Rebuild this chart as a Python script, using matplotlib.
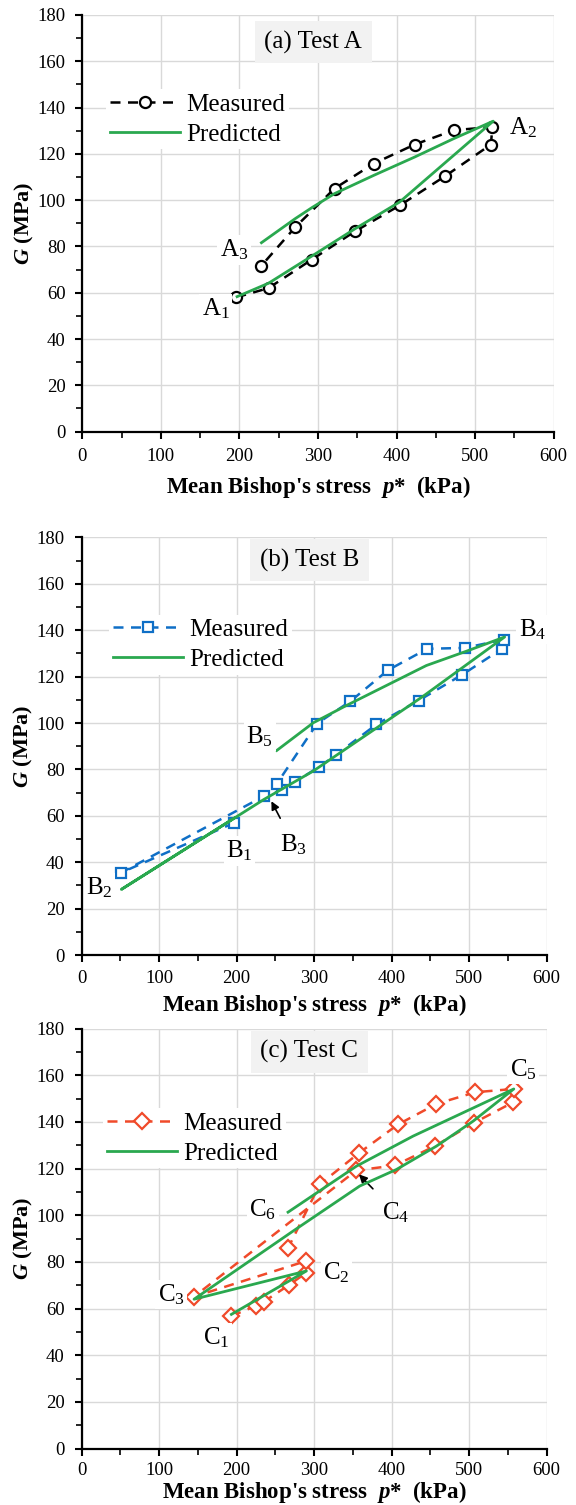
import matplotlib
matplotlib.use("Agg")
import matplotlib.pyplot as plt
from matplotlib.ticker import MultipleLocator

plt.rcParams["font.family"] = "Liberation Serif"
plt.rcParams["mathtext.fontset"] = "custom"
plt.rcParams["mathtext.rm"] = "Liberation Serif"
plt.rcParams["mathtext.it"] = "Liberation Serif:italic"
plt.rcParams["mathtext.bf"] = "Liberation Serif:bold"
plt.rcParams["mathtext.bfit"] = "Liberation Serif:italic:bold"

# ---- Test A ----
a_meas_p = [196, 237, 292, 347, 404, 462, 520, 522, 473, 423, 371, 321, 271, 228]
a_meas_g = [58, 62, 74.3, 86.5, 97.7, 110.4, 124, 131.6, 130.2, 124, 115.8, 105, 88.3, 71.7]
a_pred_p = [197, 237, 292, 347, 404, 523, 473, 423, 371, 321, 292, 271, 228]
a_pred_g = [58.3, 64.1, 75.8, 87.6, 99.2, 134.1, 126.6, 118.6, 110.7, 102.8, 96.7, 92, 81.6]
a_labels = ["A$_1$", "A$_2$", "A$_3$"]
a_label_p = [170, 561, 193]
a_label_g = [53, 131.3, 78.5]

# ---- Test B ----
b_meas_p = [197, 51, 235.5, 259, 275, 306.5, 328, 380.5, 435, 491.5, 543, 545,
            495, 446, 395.5, 347, 304, 252]
b_meas_g = [57, 35.5, 68.5, 71, 74.5, 81.1, 86.2, 99.4, 109.7, 120.9, 132.1, 136,
            132.4, 132, 122.8, 109.4, 99.8, 73.8]
b_pred_p = [197, 51.4, 235.5, 299, 441, 546, 497, 445, 342, 299, 252]
b_pred_g = [59, 28.3, 67.1, 79.3, 111.6, 137.1, 131, 124.8, 107.6, 100.1, 88.2]
b_labels = ["B$_1$", "B$_2$", "B$_4$", "B$_5$"]
b_label_p = [204, 23, 582, 230]
b_label_g = [44.8, 29, 140.3, 94.3]

# ---- Test C ----
c_meas_p = [193.4, 224.8, 235.5, 267.4, 290.2, 290.2, 145.2, 354.7, 404.2, 455.9,
            506.6, 557, 557.8, 508.3, 458, 408.5, 358.2, 307.4, 266.5]
c_meas_g = [56.8, 61.1, 63, 70, 75.4, 80.4, 65.1, 119.2, 121.3, 129.6,
            139.6, 148.4, 154.1, 152.7, 147.7, 138.9, 126.7, 113.2, 85.9]
c_pred_p = [193.4, 290.2, 145.2, 273, 359, 406.4, 458, 505.3, 557.8, 427.9, 354.7, 266.5]
c_pred_g = [57.5, 76.1, 64, 93.2, 112.5, 119.6, 129.6, 140.3, 154.1, 133.9, 121, 101.3]
c_labels = ["C$_1$", "C$_2$", "C$_3$", "C$_5$", "C$_6$"]
c_label_p = [174, 329, 116, 570, 234]
c_label_g = [47.6, 75.4, 66.1, 162.4, 102.5]

GREEN = "#2aa84f"
GRID = "#d9d9d9"

fig = plt.figure(figsize=(5.76, 15.05), dpi=100)
axes = [
    fig.add_axes([0.1429, 0.7132, 0.8184, 0.2769]),
    fig.add_axes([0.1415, 0.3654, 0.8073, 0.2775]),
    fig.add_axes([0.1415, 0.0375, 0.8073, 0.2791]),
]

panels = [
    (a_meas_p, a_meas_g, a_pred_p, a_pred_g, "black", "o", 8, "(a) Test A",
     a_labels, a_label_p, a_label_g, (0.05, 0.821), 0.935, 7, 6),
    (b_meas_p, b_meas_g, b_pred_p, b_pred_g, "#0f6fc6", "s", 7.5, "(b) Test B",
     b_labels, b_label_p, b_label_g, (0.059, 0.815), 0.945, 6, 3),
    (c_meas_p, c_meas_g, c_pred_p, c_pred_g, "#f04a2a", "D", 8, "(c) Test C",
     c_labels, c_label_p, c_label_g, (0.046, 0.81), 0.945, 5, 0),
]

for ax, (mp, mg, pp, pg, col, mk, ms, title, labs, lp, lg, leg_xy, ty,
         tpad, lpad) in zip(axes, panels):
    ax.plot(mp, mg, color=col, ls=(0, (4, 3)), lw=1.8, marker=mk, ms=ms,
            mfc="white", mec=col, mew=1.6, label="Measured", zorder=3)
    ax.plot(pp, pg, color=GREEN, lw=2, label="Predicted", zorder=4)

    ax.set_xlim(0, 600)
    ax.set_ylim(0, 180)
    ax.xaxis.set_major_locator(MultipleLocator(100))
    ax.xaxis.set_minor_locator(MultipleLocator(50))
    ax.yaxis.set_major_locator(MultipleLocator(20))
    ax.yaxis.set_minor_locator(MultipleLocator(10))
    ax.grid(True, which="major", color=GRID, lw=1.0, zorder=0)
    ax.set_axisbelow(True)
    for s in ["top", "right"]:
        ax.spines[s].set_visible(False)
    for s in ["left", "bottom"]:
        ax.spines[s].set_linewidth(1.6)
    ax.tick_params(which="major", direction="out", length=5, width=1.5,
                   labelsize=13.5, pad=7)
    ax.tick_params(axis="x", which="major", pad=tpad)
    ax.tick_params(which="minor", direction="out", length=4, width=1.2)

    ax.set_xlabel("Mean Bishop's stress  $\\mathbfit{p}$*  (kPa)", fontsize=16.5,
                  fontweight="bold", labelpad=lpad)
    ax.set_ylabel("$\\mathbfit{G}$ (MPa)", fontsize=16, fontweight="bold", labelpad=1)

    ax.text(0.49, ty, title, transform=ax.transAxes, ha="center", va="center",
            fontsize=18, bbox=dict(boxstyle="square,pad=0.38", fc="#f2f2f2", ec="none"))

    for t, x, y in zip(labs, lp, lg):
        ax.text(x, y, t, ha="center", va="center", fontsize=18, zorder=5,
                bbox=dict(boxstyle="square,pad=0.1", fc="white", ec="none"))

    leg = ax.legend(loc="upper left", bbox_to_anchor=leg_xy, fontsize=18,
                    frameon=True, framealpha=1, edgecolor="none", fancybox=False,
                    handlelength=2.8, handletextpad=0.25, labelspacing=0.3,
                    borderpad=0.15, borderaxespad=0)

# arrows for B3 and C4
axes[1].annotate("B$_3$", xy=(245, 66.3), xytext=(274, 47.7), fontsize=18,
                 ha="center", va="center",
                 arrowprops=dict(arrowstyle="-|>", color="black", lw=1.2,
                                 mutation_scale=12, shrinkA=9, shrinkB=0))
axes[2].annotate("C$_4$", xy=(358, 117.5), xytext=(406, 101), fontsize=18,
                 ha="center", va="center",
                 arrowprops=dict(arrowstyle="-|>", color="black", lw=1.2,
                                 mutation_scale=12, shrinkA=9, shrinkB=0))

fig.savefig("out.png", dpi=100)
